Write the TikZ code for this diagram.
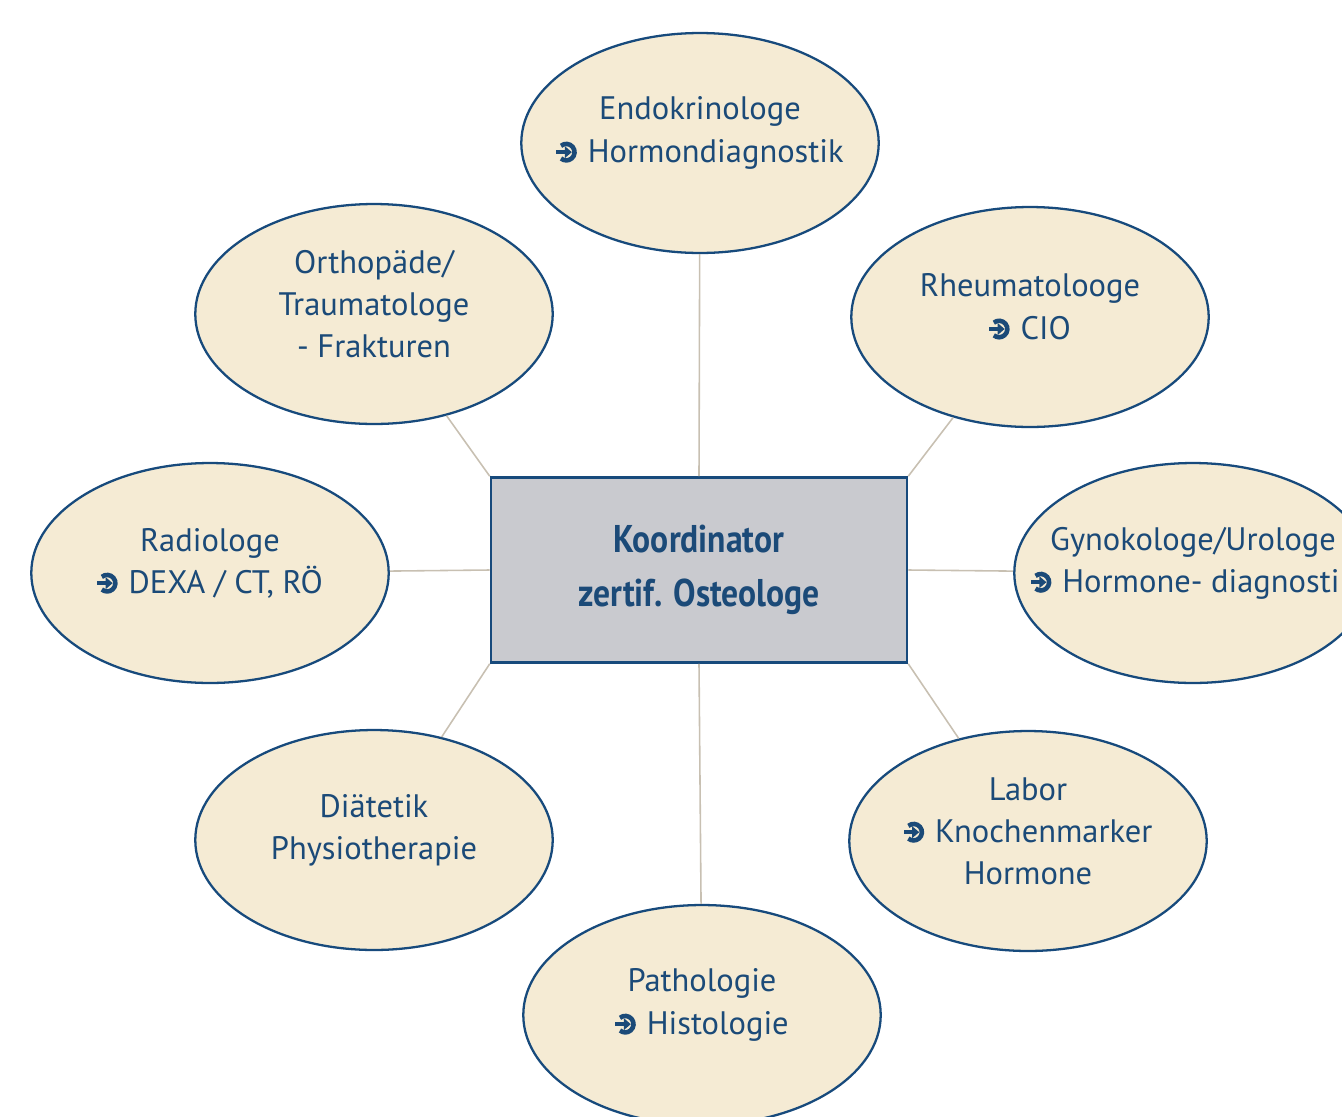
\documentclass[tikz,border=0pt]{standalone}
\usepackage{fontspec}
\setmainfont{PT Sans}
\newfontfamily\condfont[FakeStretch=0.87]{PT Sans}
\usetikzlibrary{shapes.geometric}
\usepackage{xcolor}
\definecolor{textblue}{HTML}{1B4A78}
\definecolor{rimblue}{HTML}{174A7C}
\definecolor{beige}{HTML}{F5EBD4}
\definecolor{boxgray}{HTML}{C9CACF}
\definecolor{linegray}{HTML}{C8C0B2}
% Pfeilsymbol
\newcommand{\pfeil}{\tikz[x=1cm, y=1cm, baseline=-0.2cm]{
    \draw[textblue, line width=2.6pt] (130:0.165) arc (130:-130:0.165);
    \fill[textblue] (-0.2,0.04) rectangle (0.0,-0.04);
    \fill[textblue] (0.11,0) -- (-0.03,0.12) -- (-0.03,-0.12) -- cycle;}\hspace{0.2cm}}

\begin{document}
\begin{tikzpicture}[x=0.02cm, y=-0.02cm,
    fach/.style={ellipse, draw=rimblue, line width=1.3pt, fill=beige,
        minimum width=7.15cm, minimum height=4.4cm, inner sep=0pt},
    fachtext/.style={text=textblue, align=center, yshift=0.2cm,
        font=\fontsize{18.5}{24}\selectfont},
    koord/.style={rectangle, draw=rimblue, line width=1.5pt, fill=boxgray,
        minimum width=8.32cm, minimum height=3.7cm, text=textblue, align=center,
        font=\condfont\bfseries\fontsize{22}{31}\selectfont},
    verb/.style={draw=linegray, line width=0.9pt}]
    \useasboundingbox (0,0) rectangle (1342,1116);
    \clip (0,0) rectangle (1342,1116);

    % Koordinator
    \node[koord] (koord) at (699,570) {Koordinator\\zertif. Osteologe};

    % Fachrichtungen
    \node[fach] (endo) at (700,143) {};
    \node[fach] (rheuma) at (1030,317) {};
    \node[fach] (gyn) at (1193,573) {};
    \node[fach] (labor) at (1028,841) {};
    \node[fach] (patho) at (702,1015) {};
    \node[fach] (diaet) at (374,840) {};
    \node[fach] (radio) at (210,573) {};
    \node[fach] (ortho) at (374,314) {};

    % Texte
    \node[fachtext] (endo-txt) at (endo) {Endokrinologe\\\pfeil Hormondiagnostik};
    \node[fachtext] (rheuma-txt) at (rheuma) {Rheumatolooge\\\pfeil CIO};
    \node[fachtext] (gyn-txt) at (gyn) {Gynokologe/Urologe\\\pfeil Hormone- diagnostik};
    \node[fachtext] (labor-txt) at (labor) {Labor\\\pfeil Knochenmarker\\Hormone};
    \node[fachtext] (patho-txt) at (patho) {Pathologie\\\pfeil Histologie};
    \node[fachtext] (diaet-txt) at (diaet) {Diätetik\\Physiotherapie};
    \node[fachtext] (radio-txt) at (radio) {Radiologe\\\pfeil DEXA / CT, RÖ};
    \node[fachtext] (ortho-txt) at (ortho) {Orthopäde/\\Traumatologe\\- Frakturen};

    % Verbindungen
    \draw[verb] (koord.north) -- (endo);
    \draw[verb] (koord.north east) -- (rheuma);
    \draw[verb] (koord.east) -- (gyn);
    \draw[verb] (koord.south east) -- (labor);
    \draw[verb] (koord.south) -- (patho);
    \draw[verb] (koord.south west) -- (diaet);
    \draw[verb] (koord.west) -- (radio);
    \draw[verb] (koord.north west) -- (ortho);
\end{tikzpicture}
\end{document}
